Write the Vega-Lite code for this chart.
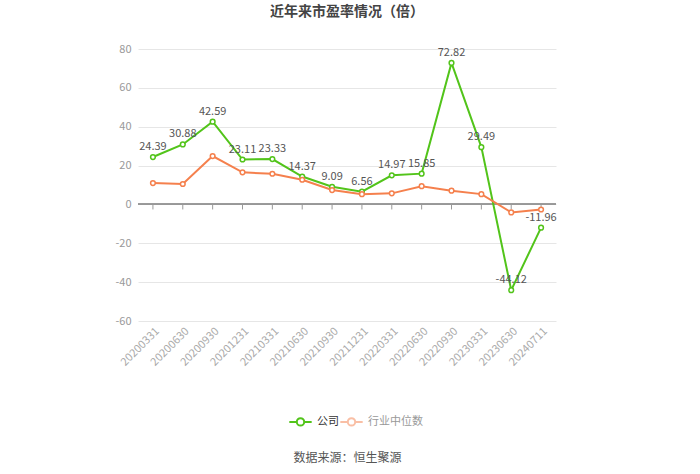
{
  "$schema": "https://vega.github.io/schema/vega-lite/v6.json",
  "width": 418,
  "height": 272,
  "autosize": {"type": "none"},
  "padding": {"left": 138, "top": 49, "right": 144, "bottom": 153},
  "background": "white",
  "title": {
    "text": "近年来市盈率情况（倍）",
    "fontSize": 14,
    "fontWeight": "bold",
    "color": "#444",
    "font": "Noto Sans CJK SC",
    "anchor": "middle",
    "offset": 24
  },
  "config": {
    "font": "Noto Sans CJK SC",
    "view": {"stroke": null}
  },
  "datasets": {
    "pe": [
      {"date": "20200331", "series": "公司", "value": 24.39},
      {"date": "20200630", "series": "公司", "value": 30.88},
      {"date": "20200930", "series": "公司", "value": 42.59},
      {"date": "20201231", "series": "公司", "value": 23.11},
      {"date": "20210331", "series": "公司", "value": 23.33},
      {"date": "20210630", "series": "公司", "value": 14.37},
      {"date": "20210930", "series": "公司", "value": 9.09},
      {"date": "20211231", "series": "公司", "value": 6.56},
      {"date": "20220331", "series": "公司", "value": 14.97},
      {"date": "20220630", "series": "公司", "value": 15.85},
      {"date": "20220930", "series": "公司", "value": 72.82},
      {"date": "20230331", "series": "公司", "value": 29.49},
      {"date": "20230630", "series": "公司", "value": -44.12},
      {"date": "20240711", "series": "公司", "value": -11.96},
      {"date": "20200331", "series": "行业中位数", "value": 11.0},
      {"date": "20200630", "series": "行业中位数", "value": 10.5},
      {"date": "20200930", "series": "行业中位数", "value": 24.9},
      {"date": "20201231", "series": "行业中位数", "value": 16.5},
      {"date": "20210331", "series": "行业中位数", "value": 15.8},
      {"date": "20210630", "series": "行业中位数", "value": 12.7},
      {"date": "20210930", "series": "行业中位数", "value": 7.4},
      {"date": "20211231", "series": "行业中位数", "value": 5.3},
      {"date": "20220331", "series": "行业中位数", "value": 5.7},
      {"date": "20220630", "series": "行业中位数", "value": 9.4},
      {"date": "20220930", "series": "行业中位数", "value": 7.1},
      {"date": "20230331", "series": "行业中位数", "value": 5.3},
      {"date": "20230630", "series": "行业中位数", "value": -4.1},
      {"date": "20240711", "series": "行业中位数", "value": -2.6}
    ]
  },
  "data": {"name": "pe"},
  "encoding": {
    "x": {
      "field": "date",
      "type": "ordinal",
      "sort": null,
      "scale": {"type": "point", "padding": 0.5},
      "axis": {
        "title": "数据来源：恒生聚源",
        "titleY": 136,
        "titleX": 209,
        "titleFontSize": 12,
        "titleFontWeight": "normal",
        "titleColor": "#555",
        "titleBaseline": "middle",
        "labelAngle": -45,
        "labelAlign": "right",
        "labelBaseline": "top",
        "labelColor": "#aaa",
        "labelFontSize": 11,
        "labelPadding": 4,
        "domain": false,
        "ticks": false,
        "grid": false
      }
    }
  },
  "layer": [
    {
      "mark": {"type": "rule", "color": "#999", "strokeWidth": 1},
      "encoding": {
        "x": null,
        "y": {
          "datum": 0,
          "type": "quantitative",
          "scale": {"domain": [-60, 80], "nice": false},
          "axis": {
            "title": null,
            "values": [-60, -40, -20, 0, 20, 40, 60, 80],
            "tickCount": 10,
            "labelExpr": "'' + datum.value",
            "labelOverlap": false,
            "labelColor": "#999",
            "labelFontSize": 11,
            "labelPadding": 7,
            "domain": false,
            "ticks": false,
            "grid": true,
            "gridColor": "#e6e6e6"
          }
        }
      }
    },
    {
      "mark": {"type": "rule", "color": "#999", "strokeWidth": 1},
      "transform": [{"filter": "datum.series == '公司'"}],
      "encoding": {
        "y": {"datum": 0, "type": "quantitative"},
        "y2": {"datum": -2.6}
      }
    },
    {
      "mark": {
        "type": "line",
        "strokeWidth": 2,
        "point": {"filled": false, "fill": "white", "size": 22, "strokeWidth": 1.5}
      },
      "encoding": {
        "y": {"field": "value", "type": "quantitative"},
        "color": {
          "field": "series",
          "type": "nominal",
          "sort": ["公司", "行业中位数"],
          "scale": {"domain": ["公司", "行业中位数"], "range": ["#52c41a", "#f5804d"]},
          "legend": {
            "title": null,
            "orient": "none",
            "direction": "horizontal",
            "legendX": 150,
            "legendY": 360,
            "symbolType": "M-1,0L-0.33,0M0.33,0L1,0M-0.33,0A0.33,0.33 0 1,0 0.33,0A0.33,0.33 0 1,0 -0.33,0",
            "symbolSize": 500,
            "symbolStrokeWidth": 2,
            "symbolFillColor": "white",
            "labelFontSize": 11,
            "columnPadding": -4,
            "encode": {
              "labels": {"update": {"fill": {"signal": "datum.value == '公司' ? '#333' : '#999'"}}},
              "symbols": {"update": {"opacity": {"signal": "datum.value == '公司' ? 1 : 0.5"}, "fill": {"value": "white"}}}
            }
          }
        }
      }
    },
    {
      "transform": [{"filter": "datum.series == '公司'"}],
      "mark": {"type": "text", "dy": -10, "fontSize": 11, "color": "#555"},
      "encoding": {
        "y": {"field": "value", "type": "quantitative"},
        "text": {"field": "value", "type": "nominal"}
      }
    }
  ]
}
